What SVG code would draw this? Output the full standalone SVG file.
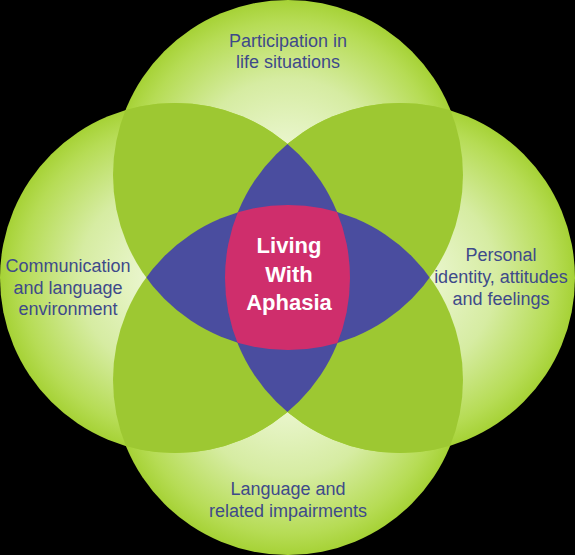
<svg xmlns="http://www.w3.org/2000/svg" width="575" height="555" viewBox="0 0 575 555">
  <defs>
    <radialGradient id="g" cx="0.5" cy="0.5" r="0.5">
      <stop offset="0" stop-color="#f2fae0"/>
      <stop offset="0.55" stop-color="#d6eca2"/>
      <stop offset="0.88" stop-color="#b6dc55"/>
      <stop offset="1" stop-color="#a6d236"/>
    </radialGradient>
    <clipPath id="cT"><circle cx="288" cy="175" r="175"/></clipPath>
    <clipPath id="cB"><circle cx="288" cy="380" r="175"/></clipPath>
    <clipPath id="cL"><circle cx="175" cy="278" r="175"/></clipPath>
    <clipPath id="cR"><circle cx="400" cy="278" r="175"/></clipPath>
    <style>
      .lbl{font-family:"Liberation Sans",Arial,Helvetica,sans-serif;font-size:18px;fill:#3e4a8a;text-anchor:middle}
      .ctr{font-family:"Liberation Sans",Arial,Helvetica,sans-serif;font-size:22px;font-weight:bold;fill:#ffffff;text-anchor:middle}
      .ov{fill:#9dc832}
      .bl{fill:#4a4d9f}
      .mg{fill:#cf2e6c}
    </style>
  </defs>
  <rect width="575" height="555" fill="#000000"/>
  <g id="circles">
    <circle id="c-top" cx="288" cy="175" r="175" fill="url(#g)"/>
    <circle id="c-bottom" cx="288" cy="380" r="175" fill="url(#g)"/>
    <circle id="c-left" cx="175" cy="278" r="175" fill="url(#g)"/>
    <circle id="c-right" cx="400" cy="278" r="175" fill="url(#g)"/>
  </g>
  <g id="overlaps">
    <g clip-path="url(#cT)"><circle class="ov" cx="175" cy="278" r="175"/><circle class="ov" cx="400" cy="278" r="175"/></g>
    <g clip-path="url(#cB)"><circle class="ov" cx="175" cy="278" r="175"/><circle class="ov" cx="400" cy="278" r="175"/></g>
  </g>
  <g id="opposite">
    <g clip-path="url(#cT)"><circle class="bl" cx="288" cy="380" r="175"/></g>
    <g clip-path="url(#cL)"><circle class="bl" cx="400" cy="278" r="175"/></g>
  </g>
  <g id="center">
    <g clip-path="url(#cT)"><g clip-path="url(#cB)"><g clip-path="url(#cL)"><circle class="mg" cx="400" cy="278" r="175"/></g></g></g>
    <text class="ctr" x="289" y="253">Living</text>
    <text class="ctr" x="289" y="282">With</text>
    <text class="ctr" x="289" y="310">Aphasia</text>
  </g>
  <g id="node-top"><text class="lbl" x="288" y="47">Participation in</text><text class="lbl" x="288" y="68">life situations</text></g>
  <g id="node-left"><text class="lbl" x="68" y="272">Communication</text><text class="lbl" x="68" y="293.5">and language</text><text class="lbl" x="68" y="315">environment</text></g>
  <g id="node-right"><text class="lbl" x="501" y="261">Personal</text><text class="lbl" x="501" y="283">identity, attitudes</text><text class="lbl" x="501" y="305">and feelings</text></g>
  <g id="node-bottom"><text class="lbl" x="288" y="495">Language and</text><text class="lbl" x="288" y="517">related impairments</text></g>
  <g id="connectors"/>
</svg>
